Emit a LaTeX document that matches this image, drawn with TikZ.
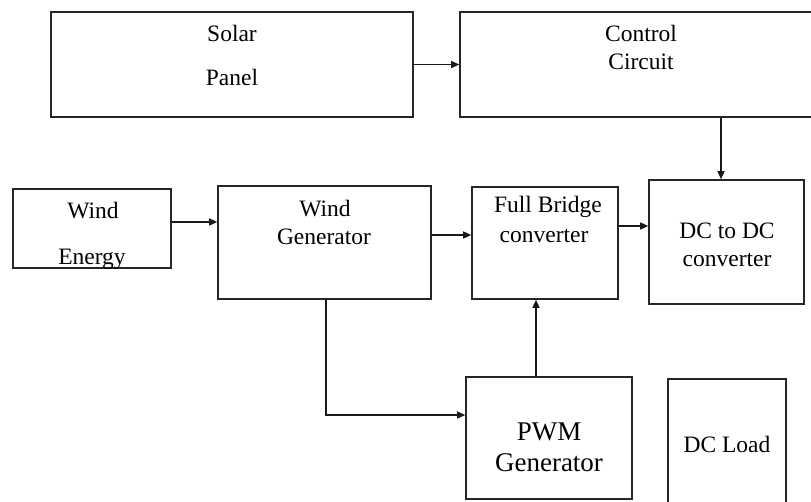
\documentclass[tikz,border=0pt]{standalone}
\usepackage{fontspec}
\setmainfont{Liberation Serif}
\usetikzlibrary{arrows.meta,calc}
\begin{document}
\begin{tikzpicture}[x=1pt,y=-1pt,
  box/.style={draw=black!85,line width=1.6pt,inner sep=0pt,rectangle},
  lbl/.style={inner sep=0pt,font=\fontsize{23.5}{23.5}\selectfont},
  biglbl/.style={inner sep=0pt,font=\fontsize{27}{27}\selectfont},
  arr/.style={draw=black!90,line width=1.4pt,-{Triangle[length=8pt,width=7pt]}},
  ln/.style={draw=black!90,line width=1.4pt}]
\clip (0,0) rectangle (811,501);
\fill[white] (0,0) rectangle (811,501);
% boxes
\node[box,minimum width=362pt,minimum height=105pt] (solar) at (232,64.5) {};
\node[box,minimum width=352pt,minimum height=105pt] (control) at (636,64.5) {};
\node[box,minimum width=158pt,minimum height=79pt] (we) at (92,228.5) {};
\node[box,minimum width=213pt,minimum height=113pt] (wg) at (324.5,242.5) {};
\node[box,minimum width=146pt,minimum height=112pt] (fb) at (545,243) {};
\node[box,minimum width=155pt,minimum height=124pt] (dcdc) at (726.5,242) {};
\node[box,minimum width=166pt,minimum height=122pt] (pwm) at (549,438) {};
\node[box,minimum width=118pt,minimum height=130pt] (load) at (727,444) {};
% texts
\node[lbl] (t1) at (232,33) {Solar};
\node[lbl] (t2) at (232,77) {Panel};
\node[lbl] (t3) at (641,33) {Control};
\node[lbl] (t4) at (641,62) {Circuit};
\node[lbl] (t5) at (93,211) {Wind};
\node[lbl] (t6) at (92,259) {Energy};
\node[lbl] (t7) at (325,209) {Wind};
\node[lbl] (t8) at (324,237) {Generator};
\node[lbl] (t9) at (548,207) {Full Bridge};
\node[lbl] (t10) at (544,236) {converter};
\node[lbl] (t11) at (727,231) {DC to DC};
\node[lbl] (t12) at (727,260) {converter};
\node[biglbl] (t13) at (549,432) {PWM};
\node[biglbl] (t14) at (549,463) {Generator};
\node[lbl] (t15) at (727,444) {DC Load};
% connectors
\draw[arr] (solar.east) -- (control.west);
\draw[arr] ([xshift=-5.5pt]dcdc.north |- control.south) -- ([xshift=-5.5pt]dcdc.north);
\draw[arr] ([yshift=6.5pt]we.east) -- ([yshift=6.5pt]we.east -| wg.west);
\draw[arr] ([yshift=7.5pt]wg.east) -- ([yshift=7.5pt]wg.east -| fb.west);
\draw[arr] ([yshift=17pt]fb.east) -- ([yshift=17pt]fb.east -| dcdc.west);
\draw[arr] ([xshift=1.5pt]wg.south) |- ([yshift=23pt]pwm.west);
\draw[arr] ([xshift=-13pt]pwm.north) -- ([xshift=-13pt]pwm.north |- fb.south);
\end{tikzpicture}
\end{document}
